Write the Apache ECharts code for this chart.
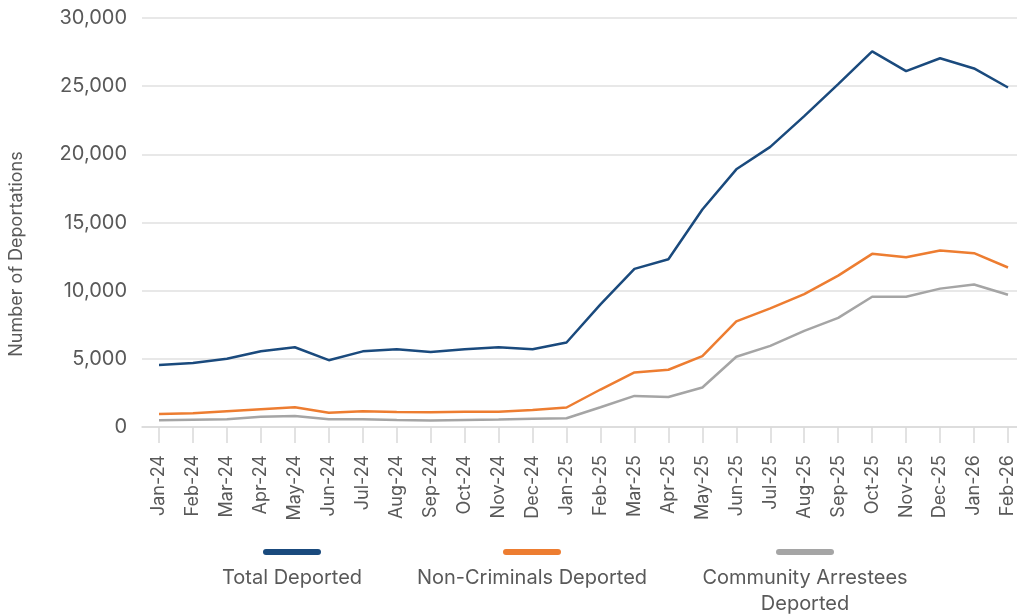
<!DOCTYPE html>
<html>
<head>
<meta charset="utf-8">
<script src="https://cdn.jsdelivr.net/npm/echarts@6/dist/echarts.min.js"></script>
<style>
  html, body { margin: 0; padding: 0; background: #fff; }
  #chart { width: 1017px; height: 615px; }
</style>
</head>
<body>
<div id="chart"></div>
<script>
// Monthly deportations, Jan 2024 – Feb 2026
const months = ['Jan-24','Feb-24','Mar-24','Apr-24','May-24','Jun-24','Jul-24','Aug-24','Sep-24','Oct-24','Nov-24','Dec-24',
  'Jan-25','Feb-25','Mar-25','Apr-25','May-25','Jun-25','Jul-25','Aug-25','Sep-25','Oct-25','Nov-25','Dec-25',
  'Jan-26','Feb-26'];

const totalDeported = [4550, 4700, 5000, 5550, 5850, 4900, 5550, 5700, 5500, 5700, 5850, 5700,
  6200, 9000, 11600, 12300, 15950, 18900, 20550, 22800, 25150, 27550, 26100, 27050, 26300, 24900];

const nonCriminalsDeported = [950, 1000, 1150, 1300, 1450, 1050, 1150, 1100, 1075, 1125, 1125, 1250,
  1430, 2750, 4000, 4200, 5200, 7750, 8700, 9750, 11100, 12700, 12450, 12950, 12750, 11700];

const communityArresteesDeported = [500, 530, 560, 750, 800, 560, 560, 510, 470, 520, 550, 600,
  640, 1450, 2280, 2200, 2900, 5150, 5950, 7050, 8000, 9550, 9550, 10150, 10450, 9700];

const seriesNames = ['Total Deported', 'Non-Criminals Deported', 'Community Arrestees\nDeported'];
const seriesColors = ['#1a4a7d', '#ed7d31', '#a5a5a5'];
const yTicks = { min: 0, max: 30000, interval: 5000 };

const FONT = 'Inter, "Open Sans", sans-serif';
const TEXT = '#595959';
const GRID_LINE = '#e0e0e0';

const chart = echarts.init(document.getElementById('chart'), null, { renderer: 'canvas' });

// Legend: a rounded swatch with the series name centred underneath
const legendItems = [
  { cx: 292, name: seriesNames[0], color: seriesColors[0] },
  { cx: 532, name: seriesNames[1], color: seriesColors[1] },
  { cx: 805, name: seriesNames[2], color: seriesColors[2] }
];
const legendGraphics = [];
legendItems.forEach(it => {
  legendGraphics.push({
    type: 'rect',
    shape: { x: it.cx - 29, y: 549, width: 58, height: 6, r: 3 },
    style: { fill: it.color }
  });
  legendGraphics.push({
    type: 'text',
    x: it.cx, y: 565,
    style: {
      text: it.name, fill: TEXT, font: '20px ' + FONT,
      align: 'center', verticalAlign: 'top', lineHeight: 26
    }
  });
});

const option = {
  animation: false,
  backgroundColor: '#fff',
  grid: [
    { left: 142, right: 0, top: 18, bottom: 188 },
    { left: 159, right: 6, top: 18, bottom: 188 }
  ],
  xAxis: [
    {
      gridIndex: 0, type: 'value', min: 0, max: 1,
      axisLine: { show: true, lineStyle: { color: '#d9d9d9', width: 1.5 } },
      axisTick: { show: false }, axisLabel: { show: false }, splitLine: { show: false }
    },
    {
      gridIndex: 1, type: 'category', boundaryGap: false, data: months,
      axisLine: { show: false },
      axisTick: { show: true, length: 16, lineStyle: { color: '#d9d9d9', width: 1.5 } },
      axisLabel: { rotate: 90, margin: 28, fontSize: 18, color: TEXT, fontFamily: FONT, interval: 0 }
    }
  ],
  yAxis: [
    {
      gridIndex: 0, type: 'value', min: yTicks.min, max: yTicks.max, interval: yTicks.interval,
      axisLine: { show: false }, axisTick: { show: false },
      axisLabel: {
        margin: 15, fontSize: 20, color: TEXT, fontFamily: FONT,
        formatter: v => v.toLocaleString('en-US')
      },
      splitLine: { show: true, lineStyle: { color: GRID_LINE, width: 1.5 } }
    },
    {
      gridIndex: 1, type: 'value', min: yTicks.min, max: yTicks.max, interval: yTicks.interval,
      show: false, splitLine: { show: false }
    }
  ],
  graphic: [
    {
      type: 'text', x: 17, y: 254, rotation: Math.PI / 2,
      style: {
        text: 'Number of Deportations', fill: TEXT, font: '18px ' + FONT,
        align: 'center', verticalAlign: 'middle'
      }
    },
    ...legendGraphics
  ],
  series: [
    { name: seriesNames[0], data: totalDeported, color: seriesColors[0] },
    { name: seriesNames[1], data: nonCriminalsDeported, color: seriesColors[1] },
    { name: seriesNames[2], data: communityArresteesDeported, color: seriesColors[2] }
  ].map(s => ({
    type: 'line', name: s.name, data: s.data, xAxisIndex: 1, yAxisIndex: 1,
    symbol: 'none', lineStyle: { color: s.color, width: 2.5 }, itemStyle: { color: s.color }
  })).reverse()
};

chart.setOption(option);
</script>
</body>
</html>
